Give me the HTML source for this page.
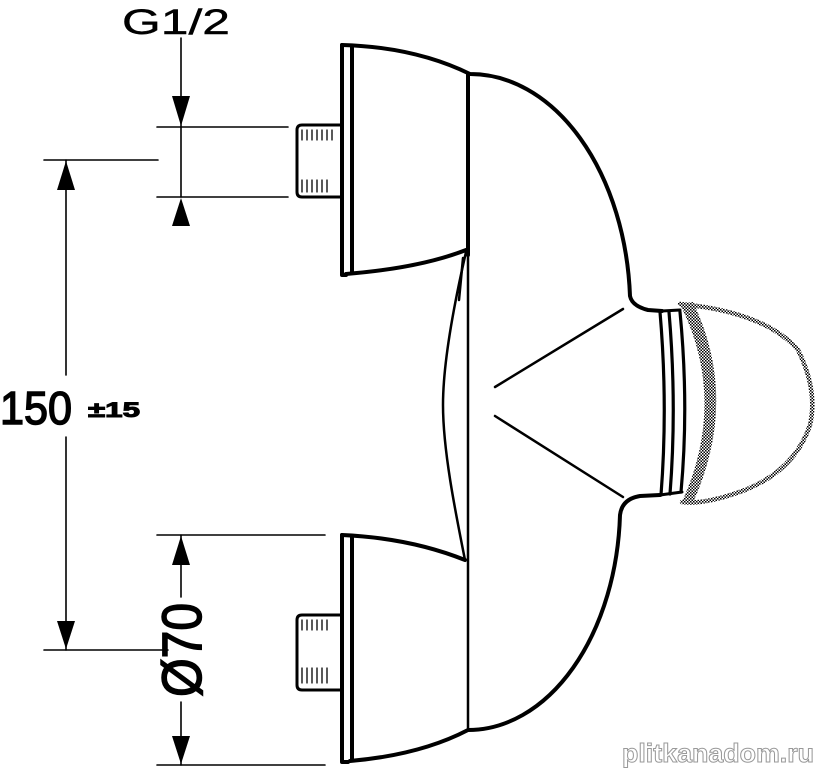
<!DOCTYPE html>
<html><head><style>
html,body{margin:0;padding:0;background:#fff;}
svg{display:block;}
</style></head><body>
<svg width="818" height="768" viewBox="0 0 818 768" xmlns="http://www.w3.org/2000/svg">
<defs>
<pattern id="chk" width="3" height="3" patternUnits="userSpaceOnUse">
<rect width="3" height="3" fill="#fff"/><rect width="1.5" height="1.5" fill="#000"/><rect x="1.5" y="1.5" width="1.5" height="1.5" fill="#000"/>
</pattern>
</defs>
<g fill="none" stroke="#000" stroke-linejoin="round" stroke-linecap="round">
<g stroke-width="1.6">
<line x1="181" y1="38" x2="181" y2="197"/>
<line x1="157" y1="127" x2="288" y2="127"/>
<line x1="157" y1="197" x2="288" y2="197"/>
<line x1="44" y1="160" x2="158" y2="160"/>
<line x1="44" y1="650" x2="168" y2="650"/>
<line x1="66" y1="160" x2="66" y2="375"/>
<line x1="66" y1="437" x2="66" y2="650"/>
<line x1="157" y1="535" x2="325" y2="535"/>
<line x1="157" y1="765" x2="325" y2="765"/>
<line x1="181" y1="535" x2="181" y2="597"/>
<line x1="181" y1="702" x2="181" y2="765"/>
</g>
<g fill="#000" stroke="none">
<polygon points="172,96 190,96 181,126"/>
<polygon points="172,226 190,226 181,198"/>
<polygon points="57,190 75,190 66,161"/>
<polygon points="57,621 75,621 66,649"/>
<polygon points="172,565 190,565 181,536"/>
<polygon points="172,736 190,736 181,764"/>
</g>
<g stroke-width="3">
<path d="M340,125 H302 Q297,125 297,130 V192 Q297,197 302,197 H340"/>
<path d="M340,615 H302 Q297,615 297,620 V685 Q297,690 302,690 H340"/>
</g>
<g stroke-width="1.3">
<path d="M302,130 v10 M307,130 v10 M312,130 v10 M317,130 v10 M322,130 v10 M327,130 v10 M332,130 v10 M302,180 v12 M307,180 v12 M312,180 v12 M317,180 v12 M322,180 v12 M327,180 v12"/>
<path d="M302,620 v10 M307,620 v10 M312,620 v10 M317,620 v10 M322,620 v10 M327,620 v10 M302,668 v15 M307,668 v15 M312,668 v15 M317,668 v15 M322,668 v15 M327,668 v15"/>
</g>
<g stroke-width="4">
<path d="M342,45 V275 H346"/>
<path d="M352,47 V273"/>
<path d="M342,45 Q415,47 470,74 A160 235 0 0 1 630,296 Q632,306 648,310 L662,311"/>
<path d="M346,274 Q420,268 466,250"/>
<path d="M468,74 V255"/>
<path d="M342,535 V762 H348"/>
<path d="M352,537 V760"/>
<path d="M342,535 Q410,538 465,560"/>
<path d="M350,761 Q420,755 468,730 A152 225 0 0 0 620,515 Q622,499 640,496 L660,495"/>
</g>
<g stroke-width="2.5">
<path d="M468,255 V730"/>
<path d="M466,252 C455,300 443,360 443,405 C443,450 455,510 465,560"/>
<path d="M459,300 L463,258"/>
<path d="M623,309 L495,387"/>
<path d="M495,416 L623,497"/>
</g>
<g stroke-width="3.2">
<path d="M660,312 Q668,405 661,495"/>
<path d="M669,312 Q677,405 670,494"/>
<path d="M680,312 Q689,405 681,492"/>
</g>
<path d="M662,311 L680,310 M660,495 L682,492" stroke-width="3"/>
<path d="M680,304 Q728,400 682,502 L692,505 Q740,400 693,302 Z" fill="url(#chk)" stroke="none"/>
<path d="M680,304 Q765,312 798,350 Q818,390 810,425 Q795,470 745,490 Q705,505 682,502" stroke="url(#chk)" stroke-width="4.5"/>
</g>
<g font-family="Liberation Sans, sans-serif" fill="#000" stroke="#000" stroke-width="1">
<text x="122" y="34" font-size="35" stroke-width="0.4" textLength="108" lengthAdjust="spacingAndGlyphs">G1/2</text>
<text x="0" y="424" font-size="46" stroke-width="1.5" textLength="72" lengthAdjust="spacingAndGlyphs">150</text>
<text x="88" y="417" font-size="21" font-weight="bold" textLength="52" lengthAdjust="spacingAndGlyphs">±15</text>
<text x="0" y="0" font-size="56" stroke-width="1.5" transform="translate(201,697) rotate(-90)" textLength="94" lengthAdjust="spacingAndGlyphs">Ø70</text>
</g>
<text x="622" y="762" font-family="Liberation Sans, sans-serif" font-size="26" font-weight="bold" fill="#fff" stroke="#999" stroke-width="1" textLength="192" lengthAdjust="spacingAndGlyphs">plitkanadom.ru</text>
</svg>
</body></html>
